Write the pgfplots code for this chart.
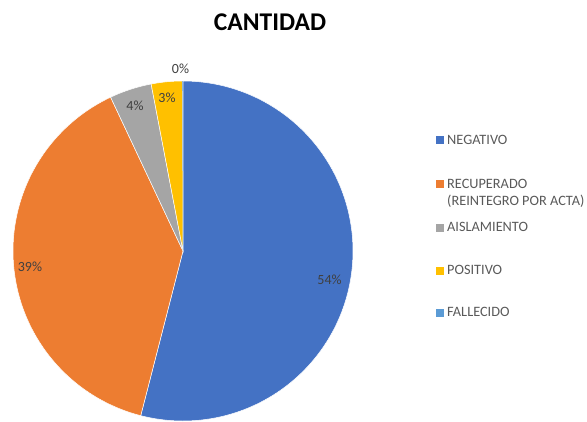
\documentclass[border=0pt]{standalone}
\usepackage{fontspec}
\setmainfont{Carlito}
\usepackage{pgfplots}
\pgfplotsset{compat=1.18}
\definecolor{cNeg}{HTML}{4472C4}
\definecolor{cRec}{HTML}{ED7D31}
\definecolor{cAis}{HTML}{A5A5A5}
\definecolor{cPos}{HTML}{FFC000}
\definecolor{cFal}{HTML}{5B9BD5}
\definecolor{lblgray}{HTML}{404040}
\definecolor{leggray}{HTML}{595959}
\begin{document}
\begin{tikzpicture}
\begin{axis}[hide axis, scale only axis, width=587pt, height=421pt,
  xmin=0, xmax=587, ymin=0, ymax=421, y dir=reverse, clip=false]
% slices: cumulative percentages (NEGATIVO 54, RECUPERADO 39, AISLAMIENTO 4, POSITIVO 2.95, FALLECIDO 0.05)
\addplot[fill=cNeg, draw=white, line width=0.5pt, domain=0:54, samples=150]
  ({183+170*sin(3.6*x)},{251-170*cos(3.6*x)}) -- (axis cs:183,251) -- cycle;
\addplot[fill=cRec, draw=white, line width=0.5pt, domain=54:93, samples=120]
  ({183+170*sin(3.6*x)},{251-170*cos(3.6*x)}) -- (axis cs:183,251) -- cycle;
\addplot[fill=cAis, draw=white, line width=0.5pt, domain=93:97, samples=20]
  ({183+170*sin(3.6*x)},{251-170*cos(3.6*x)}) -- (axis cs:183,251) -- cycle;
\addplot[fill=cPos, draw=white, line width=0.5pt, domain=97:99.95, samples=20]
  ({183+170*sin(3.6*x)},{251-170*cos(3.6*x)}) -- (axis cs:183,251) -- cycle;
\addplot[fill=cFal, draw=none, domain=99.95:100, samples=3]
  ({183+170*sin(3.6*x)},{251-170*cos(3.6*x)}) -- (axis cs:183,251) -- cycle;
% title
\node[font=\bfseries\fontsize{25.5}{30}\selectfont, text=black] at (axis cs:270,22) {CANTIDAD};
% data labels
\begin{scope}[every node/.style={font=\fontsize{14}{16}\selectfont, text=lblgray, inner sep=0pt}]
\node at (axis cs:329.5,280) {54\%};
\node at (axis cs:30,267) {39\%};
\node at (axis cs:135,105.5) {4\%};
\node at (axis cs:167,97.5) {3\%};
\node at (axis cs:180.5,68.5) {0\%};
\end{scope}
% legend
\begin{scope}[every node/.style={font=\fontsize{14.3}{17}\selectfont, text=leggray, inner sep=0pt, anchor=base west}]
\fill[cNeg] (axis cs:436,144) rectangle (axis cs:444,136);
\node at (axis cs:447,144) {NEGATIVO};
\fill[cRec] (axis cs:436,188) rectangle (axis cs:444,180);
\node at (axis cs:447,188) {RECUPERADO};
\node at (axis cs:447,205.5) {(REINTEGRO POR ACTA)};
\fill[cAis] (axis cs:436,231.5) rectangle (axis cs:444,223.5);
\node at (axis cs:447,231.5) {AISLAMIENTO};
\fill[cPos] (axis cs:436,274.5) rectangle (axis cs:444,266.5);
\node at (axis cs:447,274.5) {POSITIVO};
\fill[cFal] (axis cs:436,316.5) rectangle (axis cs:444,308.5);
\node at (axis cs:447,316.5) {FALLECIDO};
\end{scope}
\end{axis}
\pgfresetboundingbox
\path (current axis.south west) rectangle (current axis.north east);
\end{tikzpicture}
\end{document}
